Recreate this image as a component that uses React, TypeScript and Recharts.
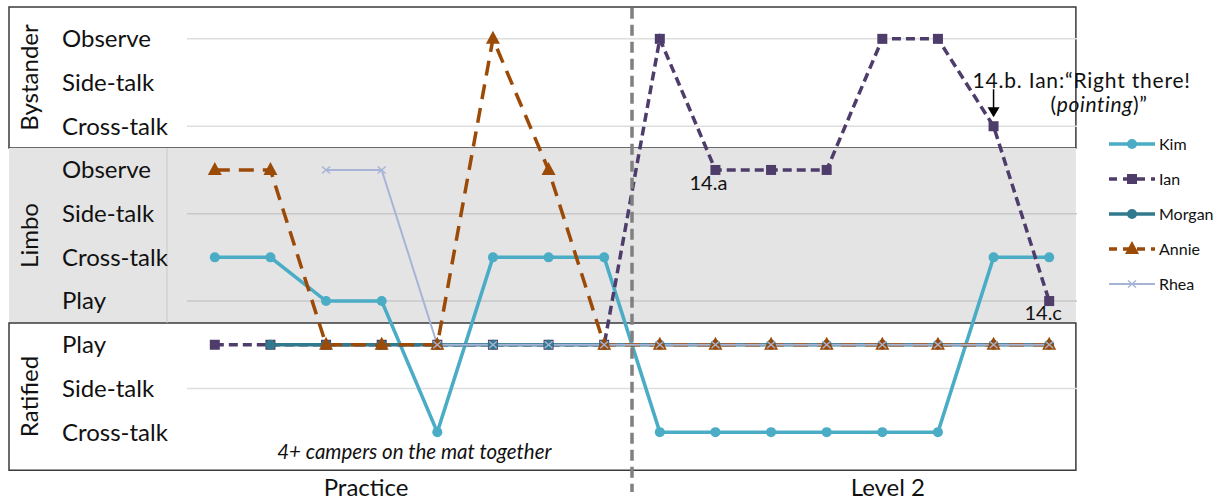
import React from "react"
import {
 LineChart,
 Line,
 XAxis,
 YAxis,
 ReferenceArea,
 ReferenceLine,
 ReferenceDot
} from "recharts"

// observation steps, left to right
const steps = [0,1,2,3,4,5,6,7,8,9,10,11,12,13,14,15]

// participation level per step (0 = Ratified Cross-talk ... 9 = Bystander Observe)
const kim = [4,4,3,3,0,4,4,4,0,0,0,0,0,0,4,4]
const ian = [2,2,2,2,2,2,2,2,9,6,6,6,9,9,7,3]
const morgan = [null,2,2,2,2,2,2,2,2,2,2,2,2,2,2,2]
const annie = [6,6,2,2,2,9,6,2,2,2,2,2,2,2,2,2]
const rhea = [null,null,6,6,2,2,2,2,2,2,2,2,2,2,2,2]

const levelTicks = [0,1,2,3,4,5,6,7,8,9]
const levelLabels = [
 "Cross-talk","Side-talk","Play",
 "Play","Cross-talk","Side-talk","Observe",
 "Cross-talk","Side-talk","Observe"
]
const gridLevels = [1,3,5,7,9]

const groups = [
 {name:"Bystander", from:6.5, to:9.73, fill:"#ffffff", box:true},
 {name:"Limbo", from:2.5, to:6.5, fill:"#e4e4e4", box:false},
 {name:"Ratified", from:-0.87, to:2.5, fill:"#ffffff", box:true}
]

const phaseTicks = [2.72, 12.1]
const phaseLabels = ["Practice","Level 2"]
const phaseSplit = 7.5

const FONT = "Lato, 'Open Sans', sans-serif"

const series = [
 {key:"Kim", color:"#4bacc6", width:3.5, dash:undefined, marker:"circle"},
 {key:"Ian", color:"#4e3c6b", width:3.5, dash:"9 5", marker:"square"},
 {key:"Morgan", color:"#31798c", width:3.5, dash:undefined, marker:"circle"},
 {key:"Annie", color:"#9b4a07", width:3.5, dash:"15 9", marker:"triangle"},
 {key:"Rhea", color:"#a6b4d6", width:2, dash:undefined, marker:"x"}
]

const data = steps.map((s,i)=>({
 step:s,
 Kim:kim[i],
 Ian:ian[i],
 Morgan:morgan[i],
 Annie:annie[i],
 Rhea:rhea[i]
}))

function Marker({type, cx, cy, color}:any){
 if(type==="circle") return <circle cx={cx} cy={cy} r={5} fill={color}/>
 if(type==="square") return <rect x={cx-5} y={cy-5} width={10} height={10} fill={color}/>
 if(type==="triangle") return <polygon points={`${cx},${cy-8} ${cx-7},${cy+5} ${cx+7},${cy+5}`} fill={color}/>
 return (
  <g stroke={color} strokeWidth={1.5}>
   <line x1={cx-4} y1={cy-3.5} x2={cx+4} y2={cy+3.5}/>
   <line x1={cx-4} y1={cy+3.5} x2={cx+4} y2={cy-3.5}/>
  </g>
 )
}

const makeDot = (s:any) => (p:any) => {
 if(p.cx==null || p.cy==null || p.value==null) return <g key={p.index}/>
 return <g key={p.index}><Marker type={s.marker} cx={p.cx} cy={p.cy} color={s.color}/></g>
}

const LevelTick = (p:any) => (
 <text x={62} y={p.y} dy="0.35em" fontSize={24} fontFamily={FONT} fill="#111">
  {levelLabels[p.payload.value]}
 </text>
)

const PhaseTick = (p:any) => (
 <text x={p.x} y={496} textAnchor="middle" fontSize={24} fontFamily={FONT} fill="#111">
  {phaseLabels[phaseTicks.indexOf(p.payload.value)]}
 </text>
)

const groupLabel = (name:string) => (p:any) => {
 const vb = p.viewBox || p
 const cx = vb.x + 21
 const cy = vb.y + vb.height/2
 return (
  <text x={cx} y={cy} transform={`rotate(-90 ${cx} ${cy})`} textAnchor="middle" dy="0.35em"
   fontSize={24} fontFamily={FONT} fill="#111">{name}</text>
 )
}

const annoText = {fontSize:20, fontFamily:FONT, fill:"#111"}

function SeriesLegend(){
 return(
  <div style={{position:"absolute", left:1109, top:126, fontFamily:FONT, fontSize:16, color:"#111"}}>
   {series.map(s=>(
    <div key={s.key} style={{display:"flex", alignItems:"center", height:35}}>
     <svg width={50} height={20}>
      <line x1={0} y1={10} x2={46} y2={10} stroke={s.color} strokeWidth={s.width} strokeDasharray={s.dash ? "8 6" : undefined}/>
      <Marker type={s.marker} cx={23} cy={10} color={s.color}/>
     </svg>
     <span>{s.key}</span>
    </div>
   ))}
  </div>
 )
}

export default function App(){
 return(
  <div style={{position:"absolute", left:0, top:0, width:1219, height:501}}>
   <LineChart width={1219} height={501} data={data} margin={{top:17, right:142, bottom:0, left:0}}>

    {groups.map(g=>(
     <ReferenceArea key={g.name} x1={-3.7} x2={15.48} y1={g.from} y2={g.to} ifOverflow="visible"
      fill={g.fill} fillOpacity={1} stroke={g.box ? "#3a3a3a" : "none"} strokeWidth={1.5}
      label={groupLabel(g.name)}/>
    ))}

    <ReferenceLine segment={[{x:-0.86,y:2.5},{x:-0.86,y:6.5}]} ifOverflow="visible" stroke="#c8c8c8" strokeWidth={1}/>

    {gridLevels.map(v=>(
     <ReferenceLine key={v} y={v} stroke={v>2.5 && v<6.5 ? "#c8c8c8" : "#dedede"} strokeWidth={1.5}/>
    ))}

    <XAxis type="number" dataKey="step" domain={[-0.5,15.5]} ticks={phaseTicks} interval={0}
     axisLine={false} tickLine={false} height={47} tick={PhaseTick} allowDataOverflow/>
    <YAxis type="number" domain={[-0.5,9.5]} ticks={levelTicks} interval={0}
     axisLine={false} tickLine={false} width={187} tick={LevelTick} allowDataOverflow/>

    {series.map(s=>(
     <Line key={s.key} dataKey={s.key} type="linear" stroke={s.color} strokeWidth={s.width}
      strokeDasharray={s.dash} dot={makeDot(s)} activeDot={false} connectNulls={false}
      isAnimationActive={false}/>
    ))}

    <ReferenceLine segment={[{x:phaseSplit,y:9.71},{x:phaseSplit,y:-1.37}]} ifOverflow="visible"
     stroke="#808080" strokeWidth={3.5} strokeDasharray="11 6"/>

    <ReferenceDot x={9} y={ian[9]} r={0} ifOverflow="visible" shape={(p:any)=>(
     <text x={p.cx-7} y={p.cy+13} dy="0.35em" textAnchor="middle" {...annoText}>14.a</text>
    )}/>
    <ReferenceDot x={15} y={ian[15]} r={0} ifOverflow="visible" shape={(p:any)=>(
     <text x={p.cx-6} y={p.cy+12} dy="0.35em" textAnchor="middle" {...annoText}>14.c</text>
    )}/>
    <ReferenceDot x={14} y={ian[14]} r={0} ifOverflow="visible" shape={(p:any)=>(
     <g>
      <text x={p.cx-21} y={p.cy-38} {...annoText} fontSize={21} letterSpacing={0.8}>14.b. Ian:“Right there!</text>
      <text x={p.cx+57} y={p.cy-14} {...annoText} fontSize={21} letterSpacing={0.6}>(<tspan fontStyle="italic">pointing</tspan>)”</text>
      <line x1={p.cx} y1={p.cy-37} x2={p.cx} y2={p.cy-18} stroke="#000" strokeWidth={1.5}/>
      <polygon points={`${p.cx-6},${p.cy-19} ${p.cx+6},${p.cy-19} ${p.cx},${p.cy-9}`} fill="#000"/>
     </g>
    )}/>
    <ReferenceDot x={4} y={kim[4]} r={0} ifOverflow="visible" shape={(p:any)=>(
     <text x={p.cx-23} y={p.cy+20} dy="0.35em" textAnchor="middle" fontStyle="italic" {...annoText} fontSize={20.5}>
      4+ campers on the mat together
     </text>
    )}/>

   </LineChart>
   <SeriesLegend/>
  </div>
 )
}
